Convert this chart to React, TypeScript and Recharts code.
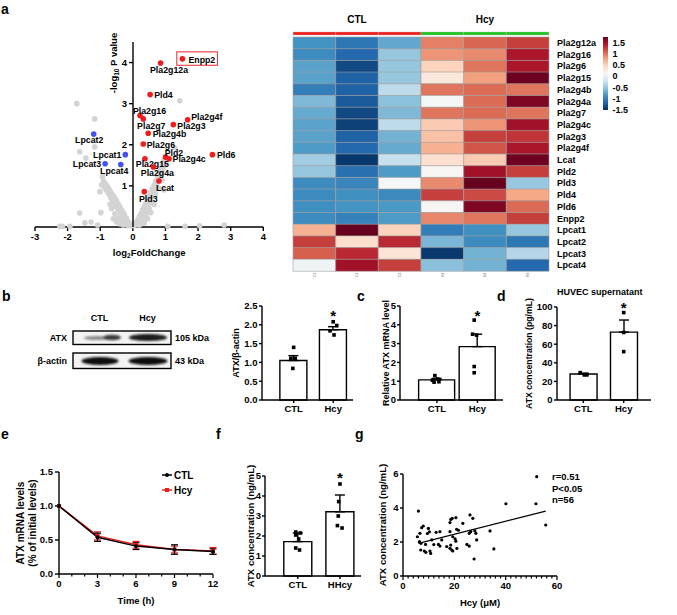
import React from "react";
import {
  BarChart,
  Bar,
  Cell,
  ComposedChart,
  ErrorBar,
  Line,
  ReferenceDot,
  ReferenceLine,
  Scatter,
  ScatterChart,
  XAxis,
  YAxis,
} from "recharts";

const FONT = '"Liberation Sans", Arial, Helvetica, sans-serif';
const RED = "#ee1c1c";
const BLUE = "#4450f0";
const GREY = "#d3d3d3";

// ---------- a: volcano ----------
const volcanoGrey: [number, number][] = [
  [-0.05, 0.03], [-0.08, 0.08], [-0.12, 0.05], [-0.15, 0.14], [-0.18, 0.1], [-0.2, 0.22],
  [-0.23, 0.16], [-0.26, 0.3], [-0.28, 0.2], [-0.3, 0.36], [-0.33, 0.27], [-0.35, 0.42],
  [-0.38, 0.33], [-0.4, 0.5], [-0.43, 0.4], [-0.45, 0.56], [-0.48, 0.46], [-0.5, 0.63],
  [-0.53, 0.52], [-0.55, 0.7], [-0.58, 0.6], [-0.6, 0.76], [-0.63, 0.66], [-0.65, 0.82],
  [-0.68, 0.72], [-0.7, 0.88], [-0.73, 0.8], [-0.75, 0.95], [-0.78, 0.86], [-0.8, 1.0],
  [-0.83, 0.92], [-0.85, 1.06], [-0.88, 0.98], [-0.9, 1.12], [-0.93, 1.23], [-1.01, 0.86],
  [-0.96, 1.02], [-0.25, 0.08], [-0.35, 0.14], [-0.45, 0.22], [-0.55, 0.32], [-0.65, 0.45],
  [-0.3, 0.05], [-0.5, 0.12], [-0.6, 0.2], [-0.4, 0.08], [-0.15, 0.03], [-0.7, 0.55],
  [0.04, 0.03], [0.08, 0.07], [0.1, 0.12], [0.14, 0.06], [0.16, 0.18], [0.18, 0.1],
  [0.2, 0.25], [0.23, 0.16], [0.25, 0.33], [0.28, 0.24], [0.3, 0.42], [0.33, 0.32],
  [0.35, 0.5], [0.38, 0.4], [0.4, 0.58], [0.43, 0.48], [0.45, 0.66], [0.48, 0.56],
  [0.5, 0.75], [0.53, 0.65], [0.55, 0.84], [0.58, 0.74], [0.6, 0.93], [0.63, 0.83],
  [0.65, 1.02], [0.68, 0.92], [0.7, 1.12], [0.73, 1.02], [0.75, 1.22], [0.78, 1.12],
  [0.8, 1.32], [0.83, 1.22], [0.85, 1.42], [0.88, 1.32], [0.9, 1.52], [0.93, 1.42],
  [0.95, 1.62], [0.98, 1.52], [1.02, 1.72], [1.05, 1.62], [0.6, 0.6], [0.7, 0.8],
  [0.5, 0.45], [0.4, 0.3], [0.3, 0.15], [0.55, 0.35], [0.45, 0.2], [0.65, 0.55],
  [0.8, 0.95], [0.9, 1.15], [0.2, 0.05], [0.35, 0.1],
  [-1.72, 3.0], [-1.17, 2.63], [-1.17, 1.95], [-1.63, 1.83], [-1.44, 1.68], [-1.63, 0.34],
  [-1.47, 0.1], [-1.28, 0.12], [-2.24, 0.02], [-2.16, 0.02], [-1.93, 0.02], [-1.08, 0.05],
  [-0.98, 0.35], [1.44, 3.07], [1.29, 1.92], [1.07, 0.02], [1.6, 0.02], [2.05, 0.03],
  [2.8, 0.05], [0.95, 0.9],
];
const upGenes = ["Enpp2", "Pla2g12a", "Pld4", "Pla2g16", "Pla2g7", "Pla2g3", "Pla2g4f", "Pla2g4b",
  "Pla2g6", "Pla2g15", "Pld2", "Pla2g4c", "Pla2g4a", "Lcat", "Pld3", "Pld6"];
const upFC = [1.52, 0.85, 0.53, 0.22, 0.32, 1.24, 1.68, 0.47, 0.32, 0.37, 1.0, 1.11, 0.63, 0.8, 0.35, 2.44];
const upLogP = [4.09, 3.99, 3.22, 2.71, 2.63, 2.49, 2.61, 2.28, 2.02, 1.66, 1.7, 1.66, 1.46, 1.12, 0.86, 1.76];
const downGenes = ["Lpcat2", "Lpcat1", "Lpcat3", "Lpcat4"];
const downFC = [-1.2, -0.23, -0.85, -0.37];
const downLogP = [2.26, 1.76, 1.54, 1.52];

// label placement relative to each dot: dx, dy, anchor
const labelAt: Record<string, [number, number, string]> = {
  Enpp2: [6, 0.5, "start"], Pla2g12a: [8.5, 7, "middle"], Pld4: [4, 0, "start"],
  Pla2g16: [9.5, -5, "middle"], Pla2g7: [8, 7, "middle"], Pla2g3: [4, 1.5, "start"],
  Pla2g4f: [3.5, -2.5, "start"], Pla2g4b: [4.5, 0.5, "start"], Pla2g6: [3.5, 0.5, "start"],
  Pla2g15: [7.5, 5, "middle"], Pld2: [8.5, -4.5, "middle"], Pla2g4c: [3.5, 0.5, "start"],
  Pla2g4a: [4, 5.5, "middle"], Lcat: [6, 7, "middle"], Pld3: [4, 7, "middle"],
  Pld6: [4.5, 0, "start"], Lpcat2: [-4.5, 6, "middle"], Lpcat1: [-4, 0, "end"],
  Lpcat3: [-4, 0.5, "end"], Lpcat4: [-6.5, 6.5, "middle"],
};

// ---------- a: heatmap ----------
const heatGenes = ["Pla2g12a", "Pla2g16", "Pla2g6", "Pla2g15", "Pla2g4b", "Pla2g4a", "Pla2g7",
  "Pla2g4c", "Pla2g3", "Pla2g4f", "Lcat", "Pld2", "Pld3", "Pld4", "Pld6", "Enpp2", "Lpcat1",
  "Lpcat2", "Lpcat3", "Lpcat4"];
const sampleIds = ["C1", "C2", "C3", "H1", "H2", "H3"];
const sampleGroup = ["CTL", "CTL", "CTL", "Hcy", "Hcy", "Hcy"];
const heatValues = [
  [-0.85, -1.05, -0.72, 0.95, 1.07, 1.25],
  [-0.9, -1.15, -0.5, 0.85, 0.9, 1.45],
  [-0.75, -1.35, -0.5, 0.5, 1.0, 1.45],
  [-0.75, -1.2, -0.5, 0.3, 0.8, 1.73],
  [-1.0, -1.2, -0.3, 1.0, 1.05, 1.0],
  [-0.6, -1.25, -0.55, 0.1, 1.05, 1.65],
  [-0.7, -1.35, -0.6, 1.0, 1.05, 1.0],
  [-0.75, -1.4, -0.3, 0.55, 0.85, 1.5],
  [-0.75, -1.2, -0.65, 0.6, 1.25, 1.3],
  [-0.8, -1.15, -0.7, 0.7, 1.15, 1.45],
  [-0.45, -1.45, -0.25, 0.4, 0.55, 1.73],
  [-0.5, -1.1, -0.8, 0.15, 1.5, 1.25],
  [-0.9, -0.95, 0.12, 0.9, 1.8, -0.5],
  [-0.9, -0.88, -0.92, 1.25, 1.2, 0.75],
  [-0.88, -0.85, -0.82, 0.15, 1.65, 1.05],
  [-0.9, -0.98, -0.8, 0.92, 1.0, 1.25],
  [0.7, 1.8, 0.5, -1.0, -0.88, -0.5],
  [1.25, 0.4, 1.35, -0.62, -0.9, -1.05],
  [1.1, 1.35, 0.35, -1.45, -0.65, -0.35],
  [0.05, 1.5, 1.25, -0.55, -0.65, -1.15],
];
const colorTicks = [1.5, 1, 0.5, 0, -0.5, -1, -1.5];
const rdbu = ["#053061", "#2166ac", "#4393c3", "#92c5de", "#d1e5f0", "#f7f7f7",
  "#fddbc7", "#f4a582", "#d6604d", "#b2182b", "#67001f"];
const HEAT_MIN = -1.5;
const HEAT_MAX = 1.75;

// ---------- b, c, d ----------
const groups = ["CTL", "Hcy"];
const bMean = [1.05, 1.87];
const bSem = [0.13, 0.08];
const bDotX = [1.0, 0.93, 1.04, 0.98, 2.0, 2.09, 1.92, 2.02];
const bDotY = [1.4, 1.11, 1.11, 0.84, 2.08, 1.98, 1.84, 1.73];
const bTicks = [0, 0.5, 1, 1.5, 2, 2.5];
const cMean = [1.07, 2.84];
const cSem = [0.08, 0.66];
const cDotX = [0.89, 0.95, 1.02, 1.05, 0.93, 1.92, 1.88, 1.98, 1.92, 1.92];
const cDotY = [1.05, 1.3, 1.12, 0.97, 0.95, 4.25, 3.5, 3.45, 1.78, 1.45];
const cTicks = [0, 1, 2, 3, 4, 5];
const dMean = [28, 73];
const dSem = [1, 13];
const dDotX = [0.925, 1.025, 1.09, 2.0, 2.0, 2.0];
const dDotY = [29.4, 27, 27, 94, 72.6, 52];
const dTicks = [0, 20, 40, 60, 80, 100];

// ---------- e ----------
const eTime = [0, 3, 6, 9, 12];
const eCtl = [1.0, 0.54, 0.41, 0.36, 0.33];
const eCtlErr = [0, 0.06, 0.05, 0.07, 0.04];
const eHcy = [1.0, 0.56, 0.43, 0.36, 0.34];
const eHcyErr = [0, 0.06, 0.05, 0.05, 0.05];
const eTicks = [0, 1, 2, 3, 4, 5, 6, 7, 8, 9, 10, 11, 12];

// ---------- f ----------
const fGroups = ["CTL", "HHcy"];
const fMean = [1.72, 3.21];
const fSd = [0.43, 0.84];
const fDotX = [0.95, 1.06, 0.95, 1.02, 0.95, 1.04, 2.0, 1.97, 1.96, 1.94, 2.05];
const fDotY = [2.2, 2.15, 2.05, 1.85, 1.4, 1.3, 4.6, 3.72, 3.0, 2.52, 2.4];
const fTicks = [0, 1, 2, 3, 4, 5];

// ---------- g ----------
const gHcy = [6.0, 5.6, 6.6, 7.3, 7.9, 6.4, 7.0, 8.8, 6.9, 8.3, 8.9, 10.5, 10.8, 9.9, 10.3, 9.5,
  11.2, 12.9, 14.4, 13.8, 14.4, 15.1, 17.0, 18.6, 18.3, 19.0, 19.4, 18.3, 19.4, 20.3, 20.9, 21.6,
  20.6, 24.9, 25.8, 25.8, 26.4, 28.0, 28.4, 28.7, 26.1, 27.2, 18.6, 19.2, 20.6, 18.3, 23.3, 52.1,
  40.1, 51.8, 55.6, 27.7, 35.4, 33.9, 12.0, 21.0];
const gAtx = [3.82, 2.31, 2.51, 2.84, 2.94, 2.02, 1.92, 1.86, 1.53, 1.47, 1.39, 1.47, 1.33, 2.8,
  2.6, 2.5, 2.12, 2.57, 2.61, 1.86, 1.76, 2.12, 1.73, 1.82, 1.63, 1.53, 1.47, 2.61, 2.31, 2.18,
  2.75, 2.69, 2.05, 1.86, 1.76, 2.51, 2.61, 2.65, 2.51, 2.12, 3.59, 3.39, 3.33, 3.39, 3.43, 3.14,
  3.1, 5.84, 4.25, 4.25, 3.0, 1.0, 1.59, 2.65, 1.85, 1.62];
const gFitX = [6.0, 55.6];
const gFitY = [1.92, 3.82];
const gTicks = [0, 2, 4, 6, 8, 10, 12, 14, 16, 18, 20, 22, 24, 26, 28, 30, 32, 34, 36, 38, 40,
  42, 44, 46, 48, 50, 52, 54, 56, 58, 60];

// ---------- helpers ----------
function hexRgb(h: string) {
  const n = parseInt(h.slice(1), 16);
  return [(n >> 16) & 255, (n >> 8) & 255, n & 255];
}
function heatColor(v: number) {
  const t = Math.max(0, Math.min(1, (v - HEAT_MIN) / (HEAT_MAX - HEAT_MIN))) * (rdbu.length - 1);
  const i = Math.min(Math.floor(t), rdbu.length - 2);
  const f = t - i;
  const a = hexRgb(rdbu[i]);
  const b = hexRgb(rdbu[i + 1]);
  const c = a.map((x, k) => Math.round(x + (b[k] - x) * f));
  return `rgb(${c[0]},${c[1]},${c[2]})`;
}

const axisStroke = { stroke: "#000", strokeWidth: 1.4 };
const tickFont = { fontSize: 9.5, fontWeight: "bold", fill: "#000" };

const place = (left: number, top: number): React.CSSProperties => ({ position: "absolute", left, top });

function GeneDot({ cx, cy, payload, color }: any) {
  if (cx == null || cy == null) return <g />;
  const [dx, dy, anchor] = labelAt[payload.name] || [5, 0, "start"];
  return (
    <g>
      <circle cx={cx} cy={cy} r={2.8} fill={color} />
      {payload.name === "Enpp2" && (
        <rect x={cx - 5.6} y={cy - 7} width={40.6} height={13.4} fill="none" stroke="#e8262b" strokeWidth={1} />
      )}
      <text x={cx + dx} y={cy + dy} dy="0.36em" textAnchor={anchor} fontSize={8.8} fontWeight="bold" fill="#000">
        {payload.name}
      </text>
    </g>
  );
}

function Square({ cx, cy }: any) {
  if (cx == null) return <g />;
  return <rect x={cx - 1.8} y={cy - 1.8} width={3.6} height={3.6} fill="#000" />;
}

function Star({ cx, cy }: any) {
  return (
    <text x={cx} y={cy + 8} textAnchor="middle" fontSize={15} fontWeight="bold" fill="#000">
      *
    </text>
  );
}

function MinorTick({ x, y, payload, every }: any) {
  const v = payload.value;
  const major = Math.abs(v % every) < 1e-6;
  return (
    <g>
      <line x1={x} y1={y} x2={x} y2={y + (major ? 4 : 2.5)} stroke="#000" strokeWidth={1.2} />
      {major && (
        <text x={x} y={y + 12.5} textAnchor="middle" fontSize={9.5} fontWeight="bold" fill="#000">
          {v}
        </text>
      )}
    </g>
  );
}

// rotated axis title placed at x inside the chart's own svg
function VTitle({ x, y, text, size }: { x: number; y: number; text: string; size: number }) {
  return (
    <text transform={`rotate(-90 ${x} ${y})`} x={x} y={y} dy="0.35em" textAnchor="middle" fontSize={size} fontWeight="bold" fill="#000">
      {text}
    </text>
  );
}

// ---------- panels ----------
function Volcano() {
  const grey = volcanoGrey.map(([fc, p]) => ({ fc, p }));
  const up = upGenes.map((name, i) => ({ name, fc: upFC[i], p: upLogP[i] }));
  const down = downGenes.map((name, i) => ({ name, fc: downFC[i], p: downLogP[i] }));
  return (
    <>
      <div style={place(25, 32)}>
        <ScatterChart width={248.3} height={230} margin={{ top: 10, right: 10, bottom: 0, left: 10 }}>
          <XAxis
            type="number"
            dataKey="fc"
            domain={[-3, 4]}
            ticks={[-3, -2, -1, 0, 1, 2, 3, 4]}
            interval={0}
            height={35}
            tickSize={4}
            tickMargin={2}
            axisLine={axisStroke}
            tickLine={axisStroke}
            tick={tickFont}
            label={(p: any) => {
              const vb = p.viewBox || { x: 10, y: 195, width: 228.3 };
              return (
                <text x={vb.x + vb.width / 2} y={vb.y + 29} textAnchor="middle" fontSize={9.5} fontWeight="bold" fill="#000">
                  log<tspan fontSize={6.5} dy={2.5}>2</tspan>
                  <tspan dy={-2.5}>FoldChange</tspan>
                </text>
              );
            }}
          />
          <YAxis type="number" dataKey="p" domain={[0, 4.5]} hide />
          <Scatter data={grey} isAnimationActive={false} shape={(p: any) => <circle cx={p.cx} cy={p.cy} r={2.8} fill={GREY} />} />
          <Scatter data={up} isAnimationActive={false} shape={(p: any) => <GeneDot {...p} color={RED} />} />
          <Scatter data={down} isAnimationActive={false} shape={(p: any) => <GeneDot {...p} color={BLUE} />} />
        </ScatterChart>
      </div>
      <div style={place(107.9, 32)}>
        <ScatterChart width={30} height={230} margin={{ top: 10, right: 5, bottom: 35, left: 0 }}>
          <XAxis type="number" dataKey="fc" hide />
          <YAxis
            type="number"
            dataKey="p"
            domain={[0, 4.5]}
            ticks={[1, 2, 3, 4]}
            width={25}
            tickSize={4}
            tickMargin={2}
            axisLine={axisStroke}
            tickLine={axisStroke}
            tick={tickFont}
            label={(p: any) => {
              const vb = p.viewBox || { x: 0, y: 10 };
              const x = vb.x + 5.5;
              const y = vb.y + 21;
              return (
                <text transform={`rotate(-90 ${x} ${y})`} x={x} y={y} dy="0.35em" textAnchor="middle" fontSize={9.5} fontWeight="bold" fill="#000">
                  -log<tspan fontSize={6.5} dy={2.5}>10</tspan>
                  <tspan dy={-2.5}> P value</tspan>
                </text>
              );
            }}
          />
          <Scatter data={up} isAnimationActive={false} shape={() => <g />} />
        </ScatterChart>
      </div>
    </>
  );
}

function Heatmap() {
  const rows = heatGenes.map((gene) => {
    const r: any = { gene };
    sampleIds.forEach((s) => (r[s] = 1));
    return r;
  });
  const strip = [{ k: "groups", ...Object.fromEntries(sampleIds.map((s) => [s, 1])) }];
  const colY = (v: number) => 7 + ((HEAT_MAX - v) / (HEAT_MAX - HEAT_MIN)) * 73;
  return (
    <>
      <div style={{ ...place(293, 14), width: 256, fontSize: 10, fontWeight: "bold" }}>
        <span style={{ position: "absolute", left: 0, width: 128, textAlign: "center" }}>CTL</span>
        <span style={{ position: "absolute", left: 128, width: 128, textAlign: "center" }}>Hcy</span>
      </div>
      <div style={place(293, 31.7)}>
        <BarChart layout="vertical" width={256} height={3.3} data={strip} margin={{ top: 0, right: 0, bottom: 0, left: 0 }} barCategoryGap={0}>
          <XAxis type="number" domain={[0, 6]} hide />
          <YAxis type="category" dataKey="k" hide />
          {sampleIds.map((s, j) => (
            <Bar key={s} dataKey={s} stackId="g" isAnimationActive={false} fill={sampleGroup[j] === "CTL" ? "#f51b1b" : "#1cc71c"} stroke="#b0b0b0" strokeWidth={0.4} />
          ))}
        </BarChart>
      </div>
      <div style={place(293, 36.7)}>
        <BarChart layout="vertical" width={326} height={246} data={rows} margin={{ top: 0, right: 0, bottom: 0, left: 0 }} barCategoryGap={0}>
          <XAxis
            type="number"
            domain={[0, 6]}
            ticks={[0.5, 1.5, 2.5, 3.5, 4.5, 5.5]}
            interval={0}
            height={12}
            axisLine={false}
            tickLine={false}
            tickSize={0}
            tickMargin={0}
            tick={(p: any) => (
              <text x={p.x} y={p.y + 1.5} transform={`rotate(-90 ${p.x} ${p.y + 1.5})`} textAnchor="end" dy="0.35em" fontSize={3.5} fill="#999">
                {sampleIds[Math.floor(p.payload.value)]}
              </text>
            )}
          />
          <YAxis
            type="category"
            dataKey="gene"
            orientation="right"
            width={70}
            interval={0}
            axisLine={false}
            tickLine={false}
            tick={{ fontSize: 9, fontWeight: "bold", fill: "#000" }}
          />
          {sampleIds.map((s, j) => (
            <Bar key={s} dataKey={s} stackId="h" isAnimationActive={false}>
              {heatValues.map((row, i) => (
                <Cell key={i} fill={heatColor(row[j])} stroke="#a0a0a0" strokeWidth={0.6} />
              ))}
            </Bar>
          ))}
        </BarChart>
      </div>
      <svg style={place(600, 30)} width={40} height={90}>
        <defs>
          <linearGradient id="heatbar" x1="0" y1="0" x2="0" y2="1">
            {rdbu.slice().reverse().map((c, i) => (
              <stop key={c} offset={i / (rdbu.length - 1)} stopColor={c} />
            ))}
          </linearGradient>
        </defs>
        <rect x={3} y={7} width={5} height={73} fill="url(#heatbar)" />
        {colorTicks.map((v) => (
          <text key={v} x={12.5} y={colY(v)} dy="0.35em" fontSize={9} fontWeight="bold" fill="#000">
            {v}
          </text>
        ))}
      </svg>
    </>
  );
}

function Blot() {
  return (
    <svg style={place(0, 300)} width={225} height={75}>
      <defs>
        <filter id="bandBlur" x="-20%" y="-100%" width="140%" height="300%">
          <feGaussianBlur stdDeviation="1.3" />
        </filter>
      </defs>
      <g fontSize={9} fontWeight="bold" fill="#000">
        <text x={99.5} y={21} textAnchor="middle">CTL</text>
        <text x={147.5} y={21} textAnchor="middle">Hcy</text>
        <text x={67} y={40.5} textAnchor="end">ATX</text>
        <text x={67} y={64} textAnchor="end">β-actin</text>
        <text x={175} y={40.5}>105 kDa</text>
        <text x={175} y={64}>43 kDa</text>
      </g>
      <rect x={73} y={31} width={98} height={13.5} fill="#f3f3f3" />
      <g filter="url(#bandBlur)">
        <ellipse cx={97} cy={38} rx={13} ry={2} fill="#8a8a8a" />
        <ellipse cx={112} cy={37.5} rx={9} ry={2.8} fill="#3a3a3a" />
        <ellipse cx={148} cy={37.5} rx={19} ry={3.6} fill="#1a1a1a" />
      </g>
      <rect x={73} y={31} width={98} height={13.5} fill="none" stroke="#000" strokeWidth={1.4} />
      <rect x={73} y={53} width={98} height={15.5} fill="#f3f3f3" />
      <g filter="url(#bandBlur)">
        <ellipse cx={100} cy={61} rx={18.5} ry={4} fill="#111" />
        <ellipse cx={148} cy={61} rx={19.5} ry={4} fill="#111" />
      </g>
      <rect x={73} y={53} width={98} height={15.5} fill="none" stroke="#000" strokeWidth={1.4} />
    </svg>
  );
}

type DotBarProps = {
  left: number;
  top: number;
  width: number;
  plotH: number;
  yW: number;
  cats: string[];
  means: number[];
  errs: number[];
  dotX: number[];
  dotY: number[];
  xDomain: [number, number];
  yDomain: [number, number];
  yTicks: number[];
  decimals?: number;
  barSize: number;
  title: string;
  titleX: number;
  titleSize: number;
  starY: number;
  xH?: number;
  tickGap?: number;
};

function DotBar(p: DotBarProps) {
  const rows = p.cats.map((name, i) => ({ name, mean: p.means[i], err: [0, p.errs[i]] }));
  const dots = p.dotX.map((x, i) => ({ x, y: p.dotY[i] }));
  const xH = p.xH ?? 20;
  const right = 4;
  const H = 10 + p.plotH + xH;
  const gap = p.tickGap ?? 5;
  // category bands line up with the numeric positions 1 and 2 used by the dots
  const unit = (p.width - p.yW - right) / (p.xDomain[1] - p.xDomain[0]);
  const padL = (0.5 - p.xDomain[0]) * unit;
  const padR = (p.xDomain[1] - 2.5) * unit;
  const fmt = (v: number) => (p.decimals ? v.toFixed(p.decimals) : String(v));
  const [y0, y1] = p.yDomain;
  return (
    <div style={place(p.left, p.top)}>
      <ComposedChart width={p.width} height={H} data={rows} margin={{ top: 10, right, bottom: 0, left: 0 }}>
        <XAxis
          xAxisId="cat"
          type="category"
          dataKey="name"
          padding={{ left: padL, right: padR }}
          interval={0}
          height={xH}
          tickSize={3}
          tickMargin={2}
          axisLine={axisStroke}
          tickLine={axisStroke}
          tick={tickFont}
        />
        <XAxis xAxisId="num" type="number" dataKey="x" domain={p.xDomain} hide />
        <YAxis
          type="number"
          domain={p.yDomain}
          width={p.yW}
          tick={false}
          tickLine={false}
          axisLine={axisStroke}
          label={(lp: any) => {
            const vb = lp.viewBox || {};
            const top = typeof vb.y === "number" ? vb.y : 10;
            const h = typeof vb.height === "number" && vb.height > 0 ? vb.height : p.plotH;
            const ax = p.yW;
            return (
              <g>
                <VTitle x={p.titleX} y={top + h / 2} text={p.title} size={p.titleSize} />
                {p.yTicks.map((v) => {
                  const ty = top + h * (1 - (v - y0) / (y1 - y0));
                  return (
                    <g key={v}>
                      <line x1={ax - 3} y1={ty} x2={ax} y2={ty} stroke="#000" strokeWidth={1.4} />
                      <text x={ax - gap} y={ty} dy="0.35em" textAnchor="end" fontSize={9.5} fontWeight="bold" fill="#000">
                        {fmt(v)}
                      </text>
                    </g>
                  );
                })}
              </g>
            );
          }}
        />
        <Bar xAxisId="cat" dataKey="mean" barSize={p.barSize} fill="#fff" stroke="#000" strokeWidth={1.4} isAnimationActive={false}>
          <ErrorBar dataKey="err" direction="y" width={5} stroke="#000" strokeWidth={1.4} />
        </Bar>
        <Scatter xAxisId="num" data={dots} dataKey="y" isAnimationActive={false} shape={Square} />
        <ReferenceDot xAxisId="num" x={2} y={p.starY} r={0} ifOverflow="visible" shape={Star} />
      </ComposedChart>
    </div>
  );
}

function Decay() {
  const rows = eTime.map((t, i) => ({ t, ctl: eCtl[i], ctlErr: eCtlErr[i], hcy: eHcy[i], hcyErr: eHcyErr[i] }));
  return (
    <>
      <div style={place(10, 462)}>
        <ComposedChart width={213} height={147} data={rows} margin={{ top: 10, right: 10, bottom: 0, left: 0 }}>
          <XAxis
            type="number"
            dataKey="t"
            domain={[0, 12]}
            ticks={eTicks}
            interval={0}
            height={35}
            tickSize={0}
            tickMargin={0}
            tickLine={false}
            axisLine={axisStroke}
            tick={(t: any) => <MinorTick {...t} every={3} />}
            label={{ value: "Time (h)", position: "insideBottom", offset: 5.5, fontSize: 9.5, fontWeight: "bold", fill: "#000" }}
          />
          <YAxis
            type="number"
            domain={[0, 1.5]}
            ticks={[0, 0.5, 1, 1.5]}
            interval={0}
            tickFormatter={(v: number) => v.toFixed(1)}
            width={49}
            tickSize={4}
            tickMargin={2}
            axisLine={axisStroke}
            tickLine={axisStroke}
            tick={tickFont}
            label={(lp: any) => {
              const vb = lp.viewBox || { x: 0, y: 10, height: 102 };
              const cy = vb.y + vb.height / 2;
              const x1 = vb.x + 10;
              const x2 = vb.x + 22;
              return (
                <g fontSize={10} fontWeight="bold" fill="#000">
                  <text transform={`rotate(-90 ${x1} ${cy})`} x={x1} y={cy} dy="0.35em" textAnchor="middle">ATX mRNA levels</text>
                  <text transform={`rotate(-90 ${x2} ${cy})`} x={x2} y={cy} dy="0.35em" textAnchor="middle">(% of initial levels)</text>
                </g>
              );
            }}
          />
          <Line
            dataKey="hcy"
            stroke={RED}
            strokeWidth={1.5}
            isAnimationActive={false}
            dot={(d: any) => <rect key={`h${d.index}`} x={d.cx - 2} y={d.cy - 2} width={4} height={4} fill={RED} />}
          >
            <ErrorBar dataKey="hcyErr" direction="y" width={3.5} stroke={RED} strokeWidth={1.2} />
          </Line>
          <Line
            dataKey="ctl"
            stroke="#000"
            strokeWidth={1.5}
            isAnimationActive={false}
            dot={(d: any) => <circle key={`c${d.index}`} cx={d.cx} cy={d.cy} r={2} fill="#000" />}
          >
            <ErrorBar dataKey="ctlErr" direction="y" width={3.5} stroke="#000" strokeWidth={1.2} />
          </Line>
        </ComposedChart>
      </div>
      <svg style={place(155, 465)} width={50} height={35}>
        <g fontSize={10} fontWeight="bold" fill="#000">
          <line x1={7} y1={10} x2={17} y2={10} stroke="#000" strokeWidth={1.5} />
          <circle cx={12} cy={10} r={2} fill="#000" />
          <text x={19} y={13.5}>CTL</text>
          <line x1={7} y1={25} x2={17} y2={25} stroke={RED} strokeWidth={1.5} />
          <rect x={10} y={23} width={4} height={4} fill={RED} />
          <text x={19} y={28.5}>Hcy</text>
        </g>
      </svg>
    </>
  );
}

function Correlation() {
  const pts = gHcy.map((x, i) => ({ x, y: gAtx[i] }));
  return (
    <>
      <div style={place(373, 464)}>
        <ScatterChart width={194} height={148} margin={{ top: 10, right: 10, bottom: 0, left: 0 }}>
          <XAxis
            type="number"
            dataKey="x"
            domain={[0, 60]}
            ticks={gTicks}
            interval={0}
            height={36}
            tickSize={0}
            tickMargin={0}
            tickLine={false}
            axisLine={axisStroke}
            tick={(t: any) => <MinorTick {...t} every={20} />}
            label={{ value: "Hcy (μM)", position: "insideBottom", offset: 6, fontSize: 9.5, fontWeight: "bold", fill: "#000" }}
          />
          <YAxis
            type="number"
            dataKey="y"
            domain={[0, 6]}
            ticks={[0, 2, 4, 6]}
            interval={0}
            width={30}
            tickSize={3}
            tickMargin={1.5}
            axisLine={axisStroke}
            tickLine={axisStroke}
            tick={tickFont}
            label={() => <VTitle x={10} y={61} text="ATX  concentration (ng/mL)" size={9.6} />}
          />
          <ReferenceLine
            segment={[{ x: gFitX[0], y: gFitY[0] }, { x: gFitX[1], y: gFitY[1] }]}
            stroke="#000"
            strokeWidth={1.2}
          />
          <Scatter data={pts} isAnimationActive={false} shape={(s: any) => <circle cx={s.cx} cy={s.cy} r={1.6} fill="#000" />} />
        </ScatterChart>
      </div>
      <div style={{ ...place(552, 471), fontSize: 9.5, fontWeight: "bold", lineHeight: "11.6px" }}>
        r=0.51<br />P&lt;0.05<br />n=56
      </div>
    </>
  );
}

function Letter({ x, y, ch }: { x: number; y: number; ch: string }) {
  return <div style={{ ...place(x, y), fontSize: 14, fontWeight: "bold", lineHeight: "14px" }}>{ch}</div>;
}

export default function App() {
  return (
    <div
      style={{
        position: "absolute",
        left: 0,
        top: 0,
        width: 677,
        height: 615,
        background: "#fff",
        fontFamily: FONT,
        fontWeight: "bold",
        color: "#000",
        overflow: "hidden",
      }}
    >
      <style>{`.recharts-surface{overflow:visible}`}</style>
      <Letter x={1} y={2} ch="a" />
      <Letter x={2} y={289} ch="b" />
      <Letter x={357} y={289} ch="c" />
      <Letter x={497} y={289} ch="d" />
      <Letter x={1} y={427} ch="e" />
      <Letter x={216} y={427} ch="f" />
      <Letter x={355} y={427} ch="g" />

      <Volcano />
      <Heatmap />
      <Blot />

      <DotBar
        left={238} top={296} width={119} plotH={94} yW={24}
        cats={groups} means={bMean} errs={bSem} dotX={bDotX} dotY={bDotY}
        xDomain={[0.2, 2.5]} yDomain={[0, 2.5]} yTicks={bTicks} decimals={1}
        barSize={27} title="ATX/β-actin" titleX={-2} titleSize={9}
        starY={2.31} tickGap={4.5}
      />
      <DotBar
        left={378} top={296} width={129} plotH={94} yW={22}
        cats={groups} means={cMean} errs={cSem} dotX={cDotX} dotY={cDotY}
        xDomain={[0.09, 2.63]} yDomain={[0, 5]} yTicks={cTicks}
        barSize={36} title="Relative ATX mRNA level" titleX={8} titleSize={9}
        starY={4.64} tickGap={4}
      />
      <div style={{ ...place(557, 287), fontSize: 9, fontWeight: "bold" }}>HUVEC supernatant</div>
      <DotBar
        left={533} top={297} width={122} plotH={93} yW={24}
        cats={groups} means={dMean} errs={dSem} dotX={dDotX} dotY={dDotY}
        xDomain={[0.35, 2.675]} yDomain={[0, 100]} yTicks={dTicks}
        barSize={27} title="ATX  concentration (pg/mL)" titleX={-4} titleSize={8.7}
        starY={102} tickGap={4.5}
      />

      <Decay />
      <DotBar
        left={240} top={466} width={125} plotH={100} yW={25} xH={22}
        cats={fGroups} means={fMean} errs={fSd} dotX={fDotX} dotY={fDotY}
        xDomain={[0.22, 2.5]} yDomain={[0, 5]} yTicks={fTicks}
        barSize={28} title="ATX  concentration (ng/mL)" titleX={10.5} titleSize={9.6}
        starY={5.05} tickGap={4}
      />
      <Correlation />
    </div>
  );
}
